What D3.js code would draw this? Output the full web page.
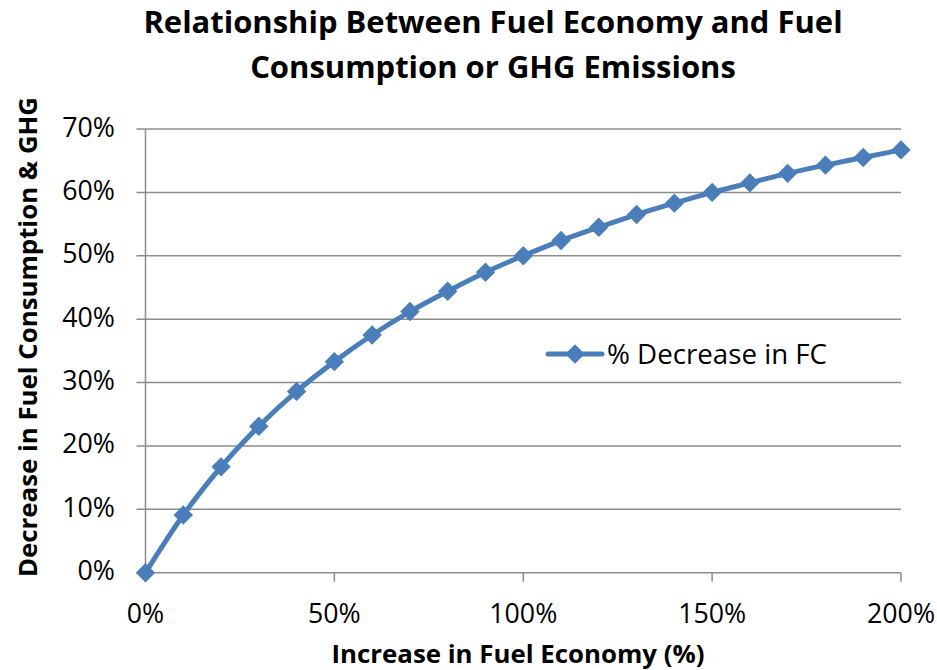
<!DOCTYPE html>
<html>
<head>
<meta charset="utf-8">
<script src="https://cdn.jsdelivr.net/npm/d3@7"></script>
<style>
  html, body { margin: 0; padding: 0; background: #fff; }
  svg { display: block; }
  text { font-family: "Open Sans", "Lato", sans-serif; fill: #000; }
</style>
</head>
<body>
<svg id="chart" width="937" height="670"></svg>
<script>
// ---- data ----
const fuelEconomyIncrease = [0, 10, 20, 30, 40, 50, 60, 70, 80, 90, 100, 110, 120, 130, 140, 150, 160, 170, 180, 190, 200];
const fcDecrease = [0, 9.1, 16.7, 23.1, 28.6, 33.3, 37.5, 41.2, 44.4, 47.4, 50.0, 52.4, 54.5, 56.5, 58.3, 60.0, 61.5, 63.0, 64.3, 65.5, 66.7];
const xTicks = [0, 50, 100, 150, 200];
const yTicks = [0, 10, 20, 30, 40, 50, 60, 70];
const seriesName = "% Decrease in FC";
const titleLines = ["Relationship Between Fuel Economy and Fuel", "Consumption or GHG Emissions"];
const xTitle = "Increase in Fuel Economy (%)";
const yTitle = "Decrease in Fuel Consumption & GHG";

const svg = d3.select("#chart");
const pLeft = 145.5, pRight = 901, pTop = 129, pBottom = 572.7;
const x = d3.scaleLinear().domain([0, 200]).range([pLeft, pRight]);
const y = d3.scaleLinear().domain([0, 70]).range([pBottom, pTop]);
const lineColor = "#4a7ebb";
const gridColor = "#8c8c8c";

// fit a text element's font size so its rendered width matches target
function fit(sel, target) {
  const node = sel.node();
  let fs = parseFloat(sel.attr("font-size"));
  for (let i = 0; i < 3; i++) {
    const w = node.getComputedTextLength();
    fs = fs * target / w;
    sel.attr("font-size", fs);
  }
  return sel;
}

// determine tick font size: "100%" is ~70px wide in the reference
const probe = svg.append("text").attr("font-size", 24).text("100%");
fit(probe, 68);
const tickFs = +probe.attr("font-size");
probe.remove();

// gridlines (horizontal)
svg.append("g").selectAll("line").data(yTicks).join("line")
  .attr("x1", pLeft - 9).attr("x2", pRight)
  .attr("y1", d => y(d)).attr("y2", d => y(d))
  .attr("stroke", gridColor).attr("stroke-width", 1.5);

// y axis line
svg.append("line").attr("x1", pLeft).attr("x2", pLeft).attr("y1", pTop).attr("y2", pBottom)
  .attr("stroke", gridColor).attr("stroke-width", 1.5);

// x axis ticks
svg.append("g").selectAll("line").data(xTicks).join("line")
  .attr("x1", d => x(d)).attr("x2", d => x(d))
  .attr("y1", pBottom).attr("y2", pBottom + 9)
  .attr("stroke", gridColor).attr("stroke-width", 1.5);

// y tick labels
svg.append("g").selectAll("text").data(yTicks).join("text")
  .attr("x", 115).attr("y", d => y(d) + 7.5)
  .attr("text-anchor", "end").attr("font-size", tickFs)
  .text(d => d + "%");

// x tick labels
svg.append("g").selectAll("text").data(xTicks).join("text")
  .attr("x", d => x(d)).attr("y", 623)
  .attr("text-anchor", "middle").attr("font-size", tickFs)
  .text(d => d + "%");

// line
const lineGen = d3.line().x((d, i) => x(fuelEconomyIncrease[i])).y(d => y(d)).curve(d3.curveMonotoneX);
svg.append("path").datum(fcDecrease)
  .attr("d", lineGen).attr("fill", "none")
  .attr("stroke", lineColor).attr("stroke-width", 5)
  .attr("stroke-linejoin", "round").attr("stroke-linecap", "round");

// markers
const diamond = d3.symbol().type(d3.symbolDiamond2).size(240);
svg.append("g").selectAll("path").data(fcDecrease).join("path")
  .attr("transform", (d, i) => `translate(${x(fuelEconomyIncrease[i])},${y(d)})`)
  .attr("d", diamond).attr("fill", lineColor);

// legend
const lg = svg.append("g");
lg.append("line").attr("x1", 548).attr("x2", 602).attr("y1", 354).attr("y2", 354)
  .attr("stroke", lineColor).attr("stroke-width", 5).attr("stroke-linecap", "round");
lg.append("path").attr("transform", "translate(575,354)").attr("d", diamond).attr("fill", lineColor);
fit(lg.append("text").attr("x", 607).attr("y", 364).attr("font-size", 24).text(seriesName), 220);

// title
const tl1 = svg.append("text").attr("x", 493).attr("y", 33).attr("text-anchor", "middle")
  .attr("font-weight", "bold").attr("font-size", 28).text(titleLines[0]);
fit(tl1, 699);
const tl2 = svg.append("text").attr("x", 493).attr("y", 78).attr("text-anchor", "middle")
  .attr("font-weight", "bold").attr("font-size", 28).text(titleLines[1]);
tl2.attr("font-size", tl1.attr("font-size"));

// x axis title
fit(svg.append("text").attr("x", 518).attr("y", 663).attr("text-anchor", "middle")
  .attr("font-weight", "bold").attr("font-size", 24).text(xTitle), 373);

// y axis title
fit(svg.append("text").attr("transform", "translate(37,337) rotate(-90)")
  .attr("text-anchor", "middle").attr("font-weight", "bold").attr("font-size", 24).text(yTitle), 480);
</script>
</body>
</html>
